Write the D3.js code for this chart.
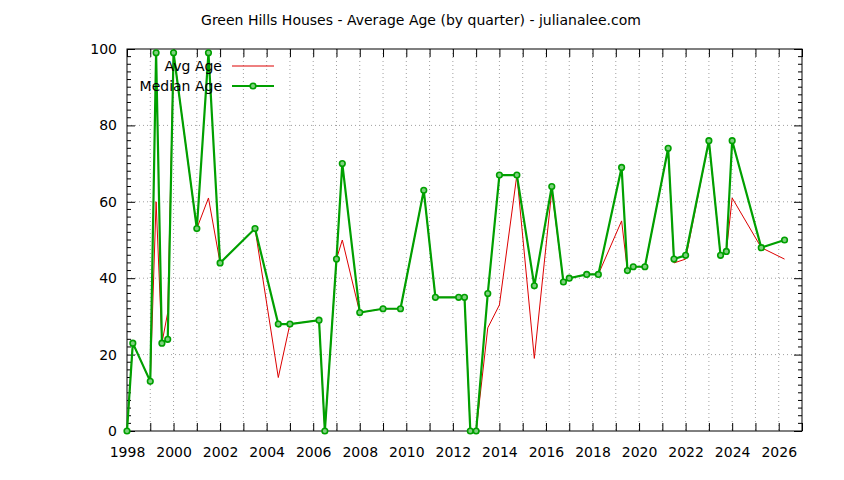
<!DOCTYPE html>
<html>
<head>
<meta charset="utf-8">
<script src="https://cdn.jsdelivr.net/npm/d3@7"></script>
<style>
  body { margin: 0; background: #fff; }
  svg text { font-family: "DejaVu Sans", sans-serif; font-size: 14px; fill: #000; }
</style>
</head>
<body>
<div id="chart"></div>
<script>
// quarter dates (decimal years) and the two series
var quarters = [1998.0, 1998.25, 1999.0, 1999.25, 1999.5, 1999.75, 2000.0, 2001.0, 2001.5, 2002.0,
                2003.5, 2004.5, 2005.0, 2006.25, 2006.5, 2007.0, 2007.25, 2008.0, 2009.0, 2009.75,
                2010.75, 2011.25, 2012.25, 2012.5, 2012.75, 2013.0, 2013.5, 2014.0, 2014.75, 2015.5,
                2016.25, 2016.75, 2017.0, 2017.75, 2018.25, 2019.25, 2019.5, 2019.75, 2020.25, 2021.25,
                2021.5, 2022.0, 2023.0, 2023.5, 2023.75, 2024.0, 2025.25, 2026.25];
var avgAge = [0, 23, 13, 60, 23, 31, 99, 53, 61, 44,
              53, 14, 28, 29, 0, 45, 50, 31, 32, 32,
              63, 35, 35, 35, 0, 0, 27, 33, 67, 19,
              63, 39, 40, 41, 41, 55, 42, 43, 43, 74,
              44, 45, 76, 46, 47, 61, 48, 45];
var medianAge = [0, 23, 13, 99, 23, 24, 99, 53, 99, 44,
                 53, 28, 28, 29, 0, 45, 70, 31, 32, 32,
                 63, 35, 35, 35, 0, 0, 36, 67, 67, 38,
                 64, 39, 40, 41, 41, 69, 42, 43, 43, 74,
                 45, 46, 76, 46, 47, 76, 48, 50];
var xDomain = [1998, 2027];
var yDomain = [0, 100];
var yTickVals = [0, 20, 40, 60, 80, 100];
var titleText = "Green Hills Houses - Average Age (by quarter) - julianalee.com";
var seriesNames = ["Avg Age", "Median Age"];

var chart = {
    svgWidth: 844,
    svgHeight: 480,
    margin: {"top": 49, "bottom": 49, "left": 127, "right": 42}
};
chart.chartWidth = chart.svgWidth - (chart.margin.left + chart.margin.right);
chart.chartHeight = chart.svgHeight - (chart.margin.top + chart.margin.bottom);

var red = "#dd0000", green = "#00a000";

var svg = d3.select("#chart").append("svg")
    .attr("width", chart.svgWidth)
    .attr("height", chart.svgHeight);

var xScale = d3.scaleLinear().domain(xDomain).range([0, chart.chartWidth]);
var yScale = d3.scaleLinear().domain(yDomain).range([chart.chartHeight, 0]);

var g = svg.append("g")
    .attr("transform", "translate(" + chart.margin.left + "," + chart.margin.top + ")");

// yearly and minor tick values
var years = d3.range(xDomain[0], xDomain[1] + 1);
var minorY = d3.range(0, 101, 2).filter(v => v % 20 != 0);

// grid (dotted)
g.append("g").selectAll("line.vgrid")
    .data(years.slice(1, -1))
    .enter().append("line")
    .attr("x1", d => xScale(d)).attr("x2", d => xScale(d))
    .attr("y1", 0).attr("y2", chart.chartHeight)
    .attr("stroke", "#a0a0a0").attr("stroke-width", 1)
    .attr("stroke-dasharray", "1,3");

g.append("g").selectAll("line.hgrid")
    .data(yTickVals.slice(1, -1))
    .enter().append("line")
    .attr("x1", 0).attr("x2", chart.chartWidth)
    .attr("y1", d => yScale(d)).attr("y2", d => yScale(d))
    .attr("stroke", "#a0a0a0").attr("stroke-width", 1)
    .attr("stroke-dasharray", "1,3");

// axes: bottom + left with labels, top + right mirrored ticks
var xAxis = d3.axisBottom(xScale).tickValues(years)
    .tickFormat(d => (d % 2 == 0 && d < xDomain[1]) ? d : "")
    .tickSizeInner(-8).tickSizeOuter(0).tickPadding(16);
var xAxisTop = d3.axisTop(xScale).tickValues(years)
    .tickFormat("").tickSizeInner(-8).tickSizeOuter(0);
var yAxis = d3.axisLeft(yScale).tickValues(yTickVals)
    .tickSizeInner(-8).tickSizeOuter(0).tickPadding(10);
var yAxisRight = d3.axisRight(yScale).tickValues(yTickVals)
    .tickFormat("").tickSizeInner(-8).tickSizeOuter(0);

function styleAxis(sel) {
    sel.select(".domain").remove();
    sel.selectAll("line").attr("stroke", "#000");
    sel.selectAll("text").attr("font-size", 14).attr("font-family", "DejaVu Sans, sans-serif");
}

g.append("g").attr("class", "xAxis")
    .attr("transform", "translate(0," + chart.chartHeight + ")")
    .call(xAxis).call(styleAxis);
g.append("g").call(xAxisTop).call(styleAxis);
g.append("g").attr("class", "yAxis").call(yAxis).call(styleAxis);
g.append("g").attr("transform", "translate(" + chart.chartWidth + ",0)")
    .call(yAxisRight).call(styleAxis);

// minor y ticks on both sides
g.append("g").selectAll("line.minorL")
    .data(minorY).enter().append("line")
    .attr("x1", 0).attr("x2", 4)
    .attr("y1", d => yScale(d)).attr("y2", d => yScale(d))
    .attr("stroke", "#000");
g.append("g").selectAll("line.minorR")
    .data(minorY).enter().append("line")
    .attr("x1", chart.chartWidth - 4).attr("x2", chart.chartWidth)
    .attr("y1", d => yScale(d)).attr("y2", d => yScale(d))
    .attr("stroke", "#000");

// frame
g.append("rect")
    .attr("width", chart.chartWidth).attr("height", chart.chartHeight)
    .attr("fill", "none").attr("stroke", "#000").attr("stroke-width", 1);

// series
var avgData = quarters.map((q, i) => [q, avgAge[i]]);
var medData = quarters.map((q, i) => [q, medianAge[i]]);
var line = d3.line().x(d => xScale(d[0])).y(d => yScale(d[1]));

g.append("path").datum(avgData)
    .attr("d", line).attr("fill", "none")
    .attr("stroke", red).attr("stroke-width", 1);

g.append("path").datum(medData)
    .attr("d", line).attr("fill", "none")
    .attr("stroke", green).attr("stroke-width", 2.2)
    .attr("stroke-linejoin", "miter");

g.append("g").selectAll("circle")
    .data(medData).enter().append("circle")
    .attr("cx", d => xScale(d[0])).attr("cy", d => yScale(d[1]))
    .attr("r", 2.8)
    .attr("fill", "#7fd07f").attr("stroke", green).attr("stroke-width", 1.6);

// legend
var legend = svg.append("g").attr("transform", "translate(0,0)");
var legendRows = [66, 86];
seriesNames.forEach(function(name, i) {
    legend.append("text")
        .attr("x", 222).attr("y", legendRows[i] + 5)
        .attr("text-anchor", "end")
        .text(name);
    legend.append("line")
        .attr("x1", 232).attr("x2", 274)
        .attr("y1", legendRows[i]).attr("y2", legendRows[i])
        .attr("stroke", i == 0 ? red : green)
        .attr("stroke-width", i == 0 ? 1 : 2.2);
    if (i == 1) {
        legend.append("circle")
            .attr("cx", 253).attr("cy", legendRows[i]).attr("r", 2.8)
            .attr("fill", "#7fd07f").attr("stroke", green).attr("stroke-width", 1.6);
    }
});

// title
svg.append("text")
    .attr("x", 421).attr("y", 25)
    .attr("text-anchor", "middle")
    .text(titleText);
</script>
</body>
</html>
